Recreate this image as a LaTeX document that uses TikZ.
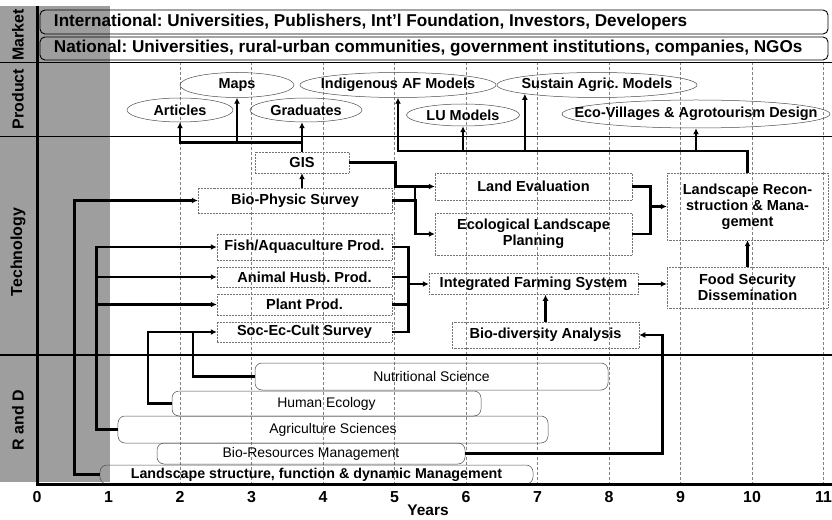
\documentclass[tikz,border=0pt]{standalone}
\usepackage{fontspec}
\setmainfont{Liberation Sans}
\frenchspacing
\usetikzlibrary{arrows.meta,shapes.geometric}
\tikzstyle{flow} = [line width=2.5bp, -{Latex[length=6bp,width=6bp]}]
\tikzstyle{wire} = [line width=2.5bp]
\tikzstyle{gridline} = [black!50, line width=0.4bp, dash pattern=on 3bp off 2bp]
\tikzstyle{marketbox} = [draw=black, line width=0.9bp, rounded corners=5bp, inner xsep=14bp, inner ysep=0pt, minimum width=788bp, font=\fontsize{17.2}{18}\selectfont\bfseries]
\tikzstyle{prodoval} = [ellipse, draw=black!70, line width=0.5bp, inner sep=0pt, font=\fontsize{14.5}{16}\selectfont\bfseries]
\tikzstyle{techbox} = [draw=black!55, densely dotted, line width=0.5bp, inner sep=0pt, align=center, font=\fontsize{14.6}{16}\selectfont\bfseries]
\tikzstyle{rdbox} = [draw=black!70, line width=0.5bp, rounded corners=7bp, inner sep=0pt, font=\fontsize{14}{16}\selectfont]
\tikzstyle{rowlabel} = [rotate=90, font=\fontsize{16}{18}\selectfont\bfseries]
\newcommand{\ovaltext}[1]{\makebox[0pt]{#1}}

\begin{document}
\begin{tikzpicture}[x=1bp, y=-1bp]
	\useasboundingbox (0,0) rectangle (832,520);

	% shaded label column and year grid
	\fill[black!38] (0,6) rectangle (110,482);
	\foreach \yr in {2,...,11}
		\draw[gridline] (37+71.5*\yr,62) -- (37+71.5*\yr,484);
	\draw[line width=0.8bp] (0,62) -- (832,62);
	\draw[line width=0.8bp] (0,136) -- (832,136);
	\draw[line width=1.3bp] (0,355) -- (832,355);

	\node[rowlabel] (lmarket) at (18,35) {Market};
	\node[rowlabel] (lproduct) at (18,99) {Product};
	\node[rowlabel] (ltech) at (18,252) {Technology};
	\node[rowlabel] (lrd) at (18,420) {R and D};

	% market
	\node[marketbox, minimum height=24bp] (intl) at (434,22)
		{\makebox[760bp][l]{International: Universities, Publishers, Int'l Foundation, Investors, Developers}};
	\node[marketbox, minimum height=23bp] (natl) at (434,48.5)
		{\makebox[760bp][l]{National: Universities, rural-urban communities, government institutions, companies, NGOs}};

	% products
	\node[prodoval, minimum width=114bp, minimum height=25bp] (maps) at (237,85) {Maps};
	\node[prodoval, minimum width=196bp, minimum height=25bp] (ind) at (398,85) {\ovaltext{Indigenous AF Models}};
	\node[prodoval, minimum width=200bp, minimum height=25bp] (sus) at (597,85) {\ovaltext{Sustain Agric. Models}};
	\node[prodoval, minimum width=106bp, minimum height=24bp] (art) at (180,110) {Articles};
	\node[prodoval, minimum width=112bp, minimum height=24bp] (grad) at (306,110) {Graduates};
	\node[prodoval, minimum width=113bp, minimum height=22bp] (lu) at (463,115) {LU Models};
	\node[prodoval, minimum width=268bp, minimum height=28bp] (evd) at (696,114) {\ovaltext{Eco-Villages \& Agrotourism Design}};

	% technology
	\node[techbox, minimum width=94bp, minimum height=21bp] (gis) at (302,162.5) {GIS};
	\node[techbox, minimum width=194bp, minimum height=25bp] (bps) at (295,200.5) {Bio-Physic Survey};
	\node[techbox, minimum width=175bp, minimum height=26bp] (fish) at (304.5,247) {Fish/Aquaculture Prod.};
	\node[techbox, minimum width=175bp, minimum height=20bp] (animal) at (304.5,277) {Animal Husb. Prod.};
	\node[techbox, minimum width=175bp, minimum height=21bp] (plant) at (304.5,304.5) {Plant Prod.};
	\node[techbox, minimum width=175bp, minimum height=20bp] (soc) at (304.5,332) {Soc-Ec-Cult Survey};
	\node[techbox, minimum width=197bp, minimum height=27bp] (land) at (533.5,186.5) {Land Evaluation};
	\node[techbox, minimum width=197bp, minimum height=42bp] (eco) at (533.5,234) {Ecological Landscape\\Planning};
	\node[techbox, minimum width=161bp, minimum height=67bp] (recon) at (747.5,206.5) {Landscape Recon-\\struction \& Mana-\\gement};
	\node[techbox, minimum width=161bp, minimum height=41bp] (food) at (747.5,287.5) {Food Security\\Dissemination};
	\node[techbox, minimum width=209bp, minimum height=21bp] (ifs) at (533.5,284) {Integrated Farming System};
	\node[techbox, minimum width=187bp, minimum height=26bp] (bio) at (545.5,335) {Bio-diversity Analysis};

	% R and D
	\node[rdbox, minimum width=353bp, minimum height=27bp] (nut) at (431.5,376.5) {Nutritional Science};
	\node[rdbox, minimum width=309bp, minimum height=25bp] (hum) at (326.5,403.5) {Human Ecology};
	\node[rdbox, minimum width=430bp, minimum height=27bp] (agr) at (333,429.5) {Agriculture Sciences};
	\node[rdbox, minimum width=308bp, minimum height=21bp] (bres) at (311,453.5) {Bio-Resources Management};
	\node[rdbox, minimum width=433bp, minimum height=19bp, font=\fontsize{14.3}{16}\selectfont\bfseries] (lsf) at (316.5,474.5) {Landscape structure, function \& dynamic Management};

	% R and D feeding the technologies
	\draw[flow] (lsf.west) -- ++(-25,0) |- (bps.west);
	\draw[flow] (agr.west) -- ++(-21,0) coordinate (agrbus) |- (fish.west);
	\draw[flow] (animal.west -| agrbus) -- (animal.west);
	\draw[flow] (plant.west -| agrbus) -- (plant.west);
	\draw[flow] (hum.west) -- ++(-24,0) |- (soc.west);
	\draw[wire] (nut.west) -- ++(-62,0) coordinate (nj) -- (nj |- soc.west);
	\draw[flow] (bres.east) -- ++(197,0) |- (bio.east);

	% survey, GIS and the products above
	\draw[flow] (gis.south |- bps.north) -- (gis.south);
	\path (gis.north) ++(0,-9) coordinate (pj);
	\draw[flow] (gis.north) -- (gis.north |- grad.south);
	\draw[flow] (pj) -| (art.south);
	\draw[flow] (maps.south |- pj) -- (maps.south);

	\draw[flow] (gis.east) -- ++(46,0) |- (land.west);
	\draw[flow] (bps.east) -- ++(23,0) |- (eco.west);
	\draw[wire] (land.west) ++(-20,0) -- ++(0,15);

	\draw[flow] (land.east) -- ++(18,0) |- (recon.west);
	\draw[wire] (eco.east) -- ++(18,0) coordinate (ej) -- (ej |- recon.west);

	\coordinate (pb) at (recon.north |- 0,151);
	\draw[flow] (recon.north) -- (pb) -| (ind.south);
	\draw[flow] (lu.south |- pb) -- (lu.south);
	\draw[flow] (sus.187 |- pb) -- (sus.187);
	\draw[flow] (evd.south |- pb) -- (evd.south);

	% farming system
	\draw[flow] (food.north) -- (recon.south);
	\draw[wire] (fish.east) -- ++(16,0) |- (soc.east);
	\draw[wire] (animal.east) -- ++(16,0);
	\draw[wire] (plant.east) -- ++(16,0);
	\draw[flow] (ifs.west -| fish.east) ++(16,0) -- (ifs.west);
	\draw[flow] (bio.north) -- (bio.north |- ifs.south);
	\draw[flow] (ifs.east) -- (ifs.east -| food.west);

	% axes
	\draw[line width=3bp] (37,6) -- (37,484) -- (832,484);
	\foreach \yr in {0,...,11}
		\node[font=\fontsize{16}{18}\selectfont\bfseries] (tick\yr) at (37+71.5*\yr,497) {\yr};
	\node[font=\fontsize{15.5}{17}\selectfont\bfseries] (years) at (428,510) {Years};

\end{tikzpicture}
\end{document}
